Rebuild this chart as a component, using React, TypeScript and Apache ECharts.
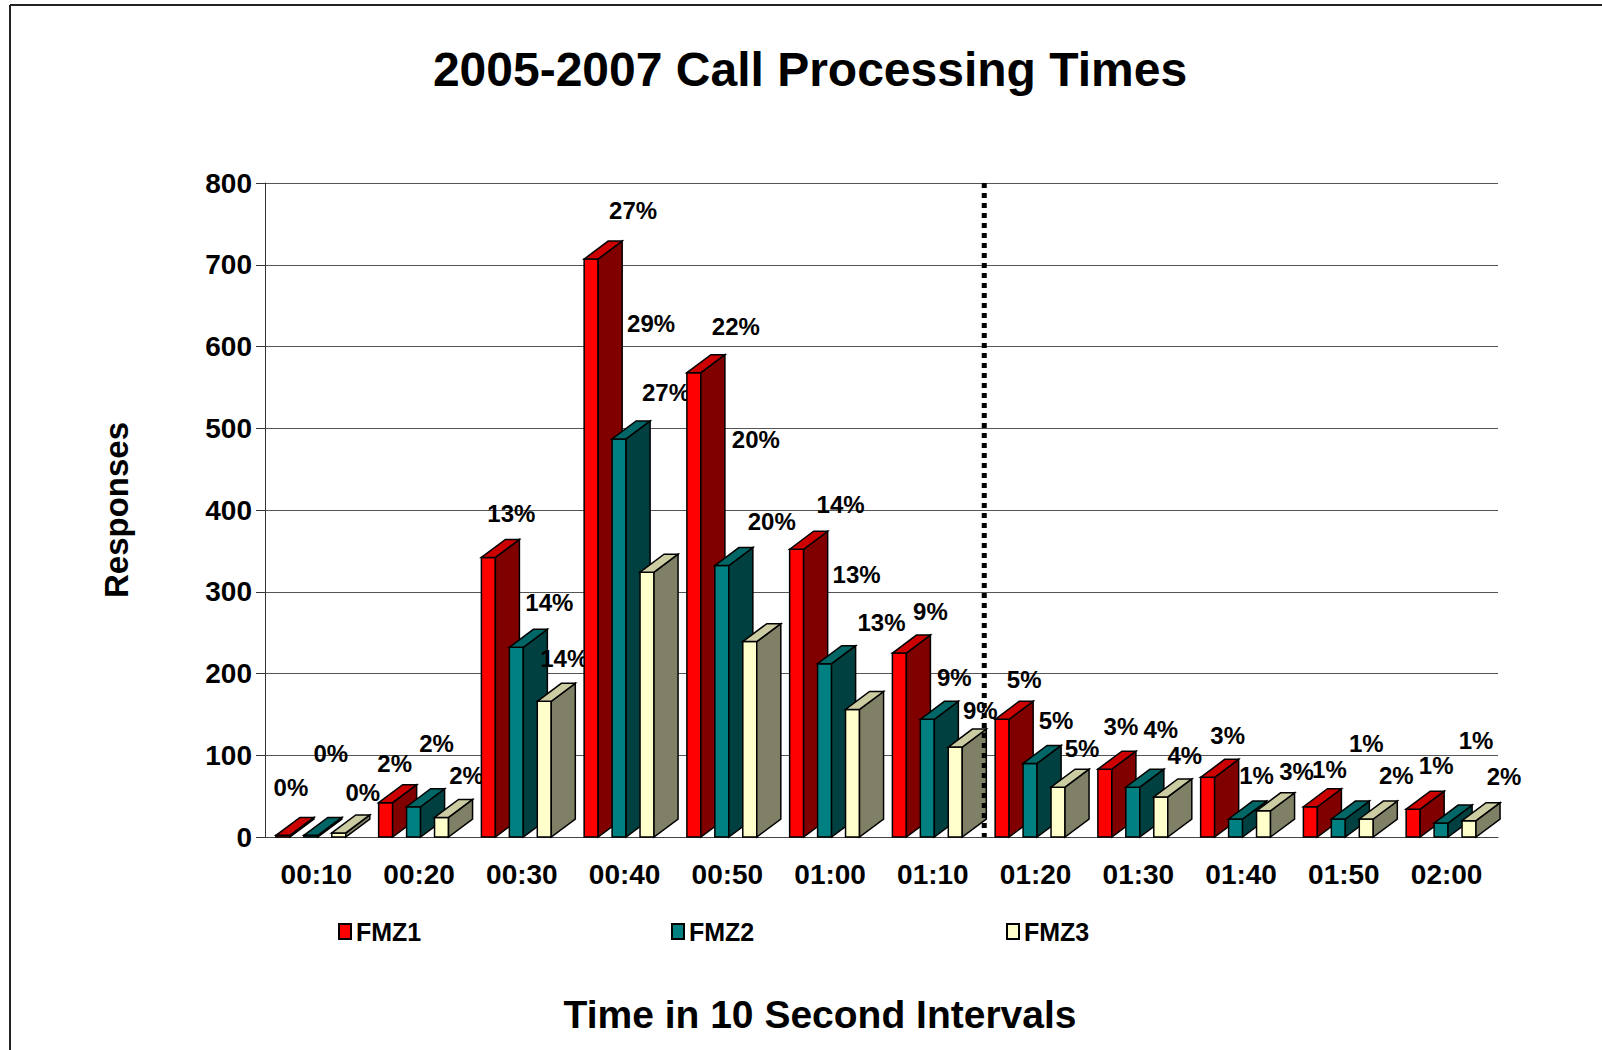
import React, { useEffect, useRef } from 'react';
import * as echarts from 'echarts';

const FONT = '"Liberation Sans", Arial, Helvetica, sans-serif';

// ---- data ----
const categories = ['00:10', '00:20', '00:30', '00:40', '00:50', '01:00', '01:10', '01:20', '01:30', '01:40', '01:50', '02:00'];
const seriesNames = ['FMZ1', 'FMZ2', 'FMZ3'];
const fmz1 = [2, 42, 342, 707, 568, 352, 225, 144, 83, 73, 37, 34];
const fmz2 = [2, 37, 232, 487, 332, 212, 144, 90, 61, 22, 22, 17];
const fmz3 = [5, 24, 166, 324, 239, 156, 110, 61, 49, 32, 22, 20];
const pct1 = ['0%', '2%', '13%', '27%', '22%', '14%', '9%', '5%', '3%', '3%', '1%', '1%'];
const pct2 = ['0%', '2%', '14%', '29%', '20%', '13%', '9%', '5%', '4%', '1%', '1%', '1%'];
const pct3 = ['0%', '2%', '14%', '27%', '20%', '13%', '9%', '5%', '4%', '3%', '2%', '2%'];
const yMin = 0;
const yMax = 800;
const yStep = 100;

// ---- layout (label placement relative to each bar's front top, px) ----
const labelOffset1 = [[8, -48], [9, -39], [23, -44], [42, -49], [42, -46], [44, -45], [31, -42], [22, -40], [16, -43], [20, -42], [19, -37], [23, -44]];
const labelOffset2 = [[20, -82], [23, -63], [33, -45], [32, -115], [34, -126], [32, -89], [27, -42], [26, -43], [28, -58], [21, -44], [28, -76], [35, -83]];
const labelOffset3 = [[24, -40], [25, -42], [20, -43], [19, -180], [22, -120], [29, -87], [25, -37], [24, -39], [24, -41], [33, -39], [30, -44], [35, -44]];

const palette = [
  { front: '#FF0000', side: '#800000', top: '#CC0000' },
  { front: '#008080', side: '#004040', top: '#006666' },
  { front: '#FFFFCC', side: '#808066', top: '#CCCCA3' },
];
const barOffsets = [-0.326, -0.054, 0.218]; // fraction of category band

export default function App() {
  const ref = useRef<HTMLDivElement>(null);

  useEffect(() => {
    const chart = echarts.init(ref.current as HTMLDivElement, null, { renderer: 'svg' });
    const pcts = [pct1, pct2, pct3];
    const offs = [labelOffset1, labelOffset2, labelOffset3];
    const rows = categories.map((_, i) => [i, fmz1[i], fmz2[i], fmz3[i]]);

    const edge = { stroke: '#000', lineWidth: 1.5, lineJoin: 'miter' };

    const renderBars = (params: any, api: any) => {
      const i = api.value(0);
      const band = api.size([1, 0])[0];
      const fw = band * 0.136;
      const dx = band * 0.234;
      const dy = band * 0.175;
      const shapes: any[] = [];
      const labels: any[] = [];
      for (let s = 0; s < 3; s++) {
        const v = api.value(s + 1);
        const top = api.coord([i, v]);
        const base = api.coord([i, 0]);
        const x0 = top[0] + barOffsets[s] * band - fw / 2;
        const x1 = x0 + fw;
        const yT = top[1];
        const yB = base[1];
        const c = palette[s];
        shapes.push(
          { type: 'polygon', shape: { points: [[x0, yT], [x1, yT], [x1, yB], [x0, yB]] }, style: { fill: c.front, ...edge } },
          { type: 'polygon', shape: { points: [[x1, yT], [x1 + dx, yT - dy], [x1 + dx, yB - dy], [x1, yB]] }, style: { fill: c.side, ...edge } },
          { type: 'polygon', shape: { points: [[x0, yT], [x0 + dx, yT - dy], [x1 + dx, yT - dy], [x1, yT]] }, style: { fill: c.top, ...edge } }
        );
        const o = offs[s][i];
        labels.push({
          type: 'text',
          style: {
            text: pcts[s][i],
            x: (x0 + x1) / 2 + o[0],
            y: yT + o[1],
            fill: '#000',
            font: `bold 24px ${FONT}`,
            align: 'center',
            verticalAlign: 'middle',
          },
        });
      }
      return { type: 'group', children: shapes.concat(labels) };
    };

    const renderDivider = (params: any, api: any) => {
      const a = api.coord([api.value(0), yMax]);
      const b = api.coord([api.value(1), yMin]);
      const x = (a[0] + b[0]) / 2;
      return {
        type: 'line',
        shape: { x1: x, y1: a[1], x2: x, y2: b[1] },
        style: { stroke: '#000', lineWidth: 5, lineDash: [5, 5] },
      };
    };

    const option: any = {
      animation: false,
      backgroundColor: '#ffffff',
      textStyle: { fontFamily: FONT },
      grid: { left: 265, top: 183, width: 1233, height: 654, containLabel: false },
      legend: seriesNames.map((n, k) => ({
        data: [n],
        left: [333, 666, 1001][k],
        top: 914,
        icon: 'rect',
        itemWidth: 12,
        itemHeight: 15,
        textStyle: { fontFamily: FONT, fontWeight: 'bold', fontSize: 25, color: '#000' },
        selectedMode: false,
      })),
      xAxis: {
        type: 'category',
        data: categories,
        boundaryGap: true,
        axisLine: { show: true, lineStyle: { color: '#444', width: 1 } },
        axisTick: { show: false },
        axisLabel: { color: '#000', fontFamily: FONT, fontWeight: 'bold', fontSize: 28, margin: 23, interval: 0 },
        splitLine: { show: false },
      },
      yAxis: {
        type: 'value',
        min: yMin,
        max: yMax,
        interval: yStep,
        name: 'Responses',
        nameLocation: 'middle',
        nameGap: 132,
        nameRotate: 90,
        nameTextStyle: { color: '#000', fontFamily: FONT, fontWeight: 'bold', fontSize: 33 },
        axisLine: { show: true, lineStyle: { color: '#333', width: 1 } },
        axisTick: { show: true, length: 9, inside: false, lineStyle: { color: '#333' } },
        axisLabel: { color: '#000', fontFamily: FONT, fontWeight: 'bold', fontSize: 28, margin: 13 },
        splitLine: { show: true, lineStyle: { color: '#555', width: 1 } },
      },
      graphic: [
        { type: 'line', shape: { x1: 10, y1: 5, x2: 1602, y2: 5 }, style: { stroke: '#222', lineWidth: 2 } },
        { type: 'line', shape: { x1: 10, y1: 5, x2: 10, y2: 1050 }, style: { stroke: '#222', lineWidth: 2 } },
        {
          type: 'text', x: 810, y: 69,
          style: { text: '2005-2007 Call Processing Times', font: `bold 48px ${FONT}`, fill: '#000', align: 'center', verticalAlign: 'middle', textAlign: 'center', textVerticalAlign: 'middle' },
        },
        {
          type: 'text', x: 820, y: 1014,
          style: { text: 'Time in 10 Second Intervals', font: `bold 39px ${FONT}`, fill: '#000', align: 'center', verticalAlign: 'middle', textAlign: 'center', textVerticalAlign: 'middle' },
        },
      ],
      series: [
        ...seriesNames.map((n, k) => ({
          name: n,
          type: 'bar',
          data: [],
          itemStyle: { color: palette[k].front, borderColor: '#000', borderWidth: 1 },
        })),
        {
          type: 'custom',
          name: 'bars3d',
          data: rows,
          encode: { x: 0, y: [1, 2, 3] },
          renderItem: renderBars,
          silent: true,
          z: 3,
        },
        {
          type: 'custom',
          name: 'divider',
          data: [[6, 7]],
          encode: { x: 0, y: 1 },
          renderItem: renderDivider,
          silent: true,
          z: 10,
        },
      ],
    };

    chart.setOption(option);
    return () => chart.dispose();
  }, []);

  return (
    <div
      ref={ref}
      style={{ position: 'fixed', left: 0, top: 0, width: 1602, height: 1050, background: '#fff' }}
    />
  );
}
